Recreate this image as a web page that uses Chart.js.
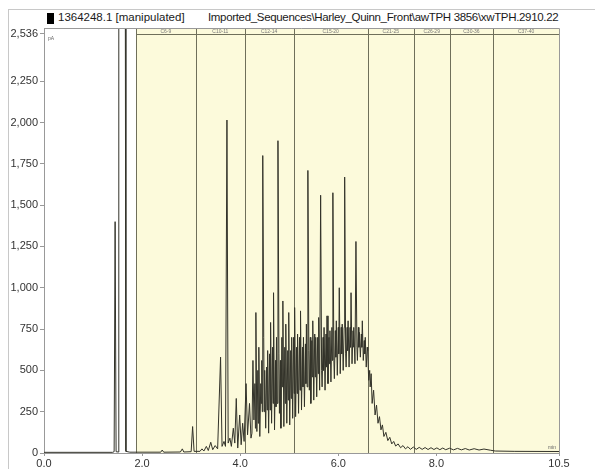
<!DOCTYPE html>
<html>
<head>
<meta charset="utf-8">
<script src="https://cdn.jsdelivr.net/npm/chart.js@4/dist/chart.umd.min.js"></script>
<style>
body { margin: 0; background: #fff; }
#wrap { position: relative; width: 595px; height: 469px; overflow: hidden; }
#frame { position: absolute; left: 8px; top: 9px; width: 600px; height: 470px; border-left: 1px solid #c8c8c8; border-top: 1px solid #c8c8c8; }
#sq { position: absolute; left: 47px; top: 13px; width: 7px; height: 11px; background: #000; }
.hdr { position: absolute; top: 11px; font: 11.5px "Liberation Sans", Arial, sans-serif; color: #1a1a1a; white-space: nowrap; }
canvas { position: absolute; left: 0; top: 0; }
</style>
</head>
<body>
<div id="wrap">
  <div id="frame"></div>
  <div id="sq"></div>
  <span class="hdr" style="left:58px">1364248.1 [manipulated]</span>
  <span class="hdr" style="left:208px;letter-spacing:-0.33px">Imported_Sequences\Harley_Quinn_Front\awTPH 3856\xwTPH.2910.22</span>
  <canvas id="chromChart" width="595" height="469"></canvas>
</div>
<script>
// retention time (min), signal (pA)
const solventTrace = [
    [0.00, 4], [1.40, 4], [1.43, 8], [1.45, 1400], [1.47, 8], [1.51, 6],
    [1.525, 3400], [1.655, 3400], [1.67, 10], [1.75, 5], [2.38, 5], [2.41, 18],
    [2.44, 5], [2.78, 6], [2.82, 25], [2.85, 6], [3.00, 8], [3.03, 160], [3.06, 10]
];
const earlyTrace = [
    [3.18, 10], [3.22, 25], [3.26, 12], [3.31, 40], [3.35, 15], [3.40, 65],
    [3.44, 20], [3.49, 45], [3.54, 25], [3.60, 580], [3.63, 40], [3.67, 70],
    [3.70, 40], [3.73, 2015], [3.755, 60], [3.79, 90], [3.82, 40], [3.86, 150],
    [3.89, 60], [3.92, 330], [3.95, 30], [3.99, 230], [4.02, 50], [4.05, 180],
    [4.08, 70], [4.12, 420], [4.15, 110], [4.19, 300], [4.22, 90]
];
const humpTrace = [
    [4.24, 120], [4.26, 560], [4.28, 200], [4.30, 420], [4.31, 150], [4.32, 850],
    [4.34, 130], [4.36, 500], [4.37, 180], [4.38, 640], [4.40, 100], [4.42, 420],
    [4.43, 300], [4.44, 560], [4.45, 250], [4.46, 1800], [4.48, 700], [4.49, 250],
    [4.50, 500], [4.52, 150], [4.54, 520], [4.55, 260], [4.56, 620], [4.58, 120],
    [4.60, 600], [4.61, 260], [4.62, 790], [4.64, 180], [4.66, 640], [4.67, 300],
    [4.68, 970], [4.70, 140], [4.72, 560], [4.73, 280], [4.74, 700], [4.755, 300],
    [4.77, 1890], [4.79, 600], [4.80, 240], [4.82, 560], [4.83, 150], [4.85, 700],
    [4.86, 400], [4.87, 920], [4.89, 160], [4.91, 640], [4.92, 300], [4.93, 780],
    [4.95, 180], [4.97, 620], [4.98, 320], [4.99, 850], [5.01, 170], [5.03, 620],
    [5.04, 330], [5.05, 700], [5.07, 210], [5.09, 700], [5.10, 360], [5.11, 880],
    [5.13, 220], [5.15, 640], [5.16, 360], [5.17, 720], [5.19, 240], [5.21, 700],
    [5.22, 380], [5.23, 860], [5.25, 260], [5.27, 640], [5.28, 400], [5.29, 700],
    [5.31, 280], [5.33, 660], [5.34, 420], [5.35, 780], [5.365, 400], [5.38, 1710],
    [5.40, 620], [5.41, 380], [5.43, 700], [5.44, 300], [5.46, 680], [5.47, 460],
    [5.48, 800], [5.50, 320], [5.52, 720], [5.53, 460], [5.54, 700], [5.56, 340],
    [5.58, 700], [5.59, 480], [5.60, 820], [5.62, 380], [5.64, 1560], [5.66, 500],
    [5.67, 400], [5.69, 700], [5.70, 500], [5.71, 760], [5.73, 380], [5.75, 720],
    [5.76, 520], [5.77, 830], [5.79, 420], [5.81, 700], [5.82, 540], [5.83, 740],
    [5.85, 430], [5.87, 760], [5.88, 560], [5.89, 1575], [5.91, 560], [5.92, 450],
    [5.94, 740], [5.95, 580], [5.96, 800], [5.98, 470], [6.00, 760], [6.01, 600],
    [6.02, 1000], [6.04, 480], [6.06, 760], [6.07, 600], [6.08, 780], [6.10, 500],
    [6.12, 760], [6.13, 1670], [6.15, 600], [6.16, 520], [6.18, 760], [6.19, 620],
    [6.20, 800], [6.22, 520], [6.24, 760], [6.25, 640], [6.26, 970], [6.28, 540],
    [6.30, 740], [6.31, 640], [6.32, 760], [6.34, 540], [6.36, 1280], [6.38, 640],
    [6.39, 560], [6.41, 760], [6.42, 640], [6.43, 730], [6.45, 580], [6.47, 720],
    [6.48, 640], [6.49, 800], [6.51, 560], [6.53, 680], [6.54, 600], [6.55, 700],
    [6.57, 520], [6.59, 640], [6.60, 620], [6.62, 440], [6.64, 500], [6.65, 400],
    [6.67, 480], [6.69, 300], [6.72, 380], [6.75, 230]
];
const tailTrace = [
    [6.78, 290], [6.81, 180], [6.84, 220], [6.87, 140], [6.90, 170], [6.93, 100],
    [6.97, 125], [7.01, 75], [7.05, 95], [7.09, 55], [7.13, 70], [7.17, 42],
    [7.22, 55], [7.27, 32], [7.32, 45], [7.37, 25], [7.42, 38], [7.47, 22],
    [7.53, 36], [7.59, 22], [7.65, 34], [7.71, 22], [7.77, 33], [7.83, 21],
    [7.89, 32], [7.95, 21], [8.01, 31], [8.07, 20], [8.13, 30], [8.19, 20],
    [8.27, 29], [8.35, 19], [8.43, 28], [8.51, 19], [8.59, 27], [8.67, 18],
    [8.77, 26], [8.87, 18], [8.97, 24], [9.10, 17], [9.20, 12], [9.60, 10], [10.5, 9]
];

const yTicks = [0, 250, 500, 750, 1000, 1250, 1500, 1750, 2000, 2250, 2536];
const xTicks = [0, 2, 4, 6, 8, 10.5];
const bandEdges = [1.87, 3.10, 4.09, 5.09, 6.60, 7.54, 8.27, 9.16, 10.5];
const bandLabels = ['C6-9', 'C10-11', 'C12-14', 'C15-20', 'C21-25', 'C26-29', 'C30-36', 'C37-40'];

const trace = solventTrace.concat(earlyTrace, humpTrace, tailTrace).map(p => ({ x: p[0], y: p[1] }));

const bandsPlugin = {
    id: 'bands',
    beforeDatasetsDraw(chart) {
        const c = chart.ctx, a = chart.chartArea, xs = chart.scales.x;
        const x0 = Math.round(xs.getPixelForValue(bandEdges[0]));
        c.save();
        c.fillStyle = '#fcfadb';
        c.fillRect(x0, a.top, a.right - x0, a.bottom - a.top);
        c.strokeStyle = '#6f6f5a';
        c.lineWidth = 1;
        c.beginPath();
        bandEdges.slice(0, -1).forEach(t => {
            const px = Math.round(xs.getPixelForValue(t)) + 0.5;
            c.moveTo(px, a.top);
            c.lineTo(px, a.bottom);
        });
        c.moveTo(x0, a.top + 6.5);
        c.lineTo(a.right, a.top + 6.5);
        c.stroke();
        c.fillStyle = '#777';
        c.font = '5px "Liberation Sans", Arial, sans-serif';
        c.textAlign = 'center';
        c.textBaseline = 'middle';
        bandLabels.forEach((lab, i) => {
            const mid = (xs.getPixelForValue(bandEdges[i]) + xs.getPixelForValue(bandEdges[i + 1])) / 2;
            c.fillText(lab, mid, a.top + 3.5);
        });
        c.restore();
    },
    afterDatasetsDraw(chart) {
        const c = chart.ctx, a = chart.chartArea;
        c.save();
        c.strokeStyle = '#999';
        c.lineWidth = 1;
        c.beginPath();
        c.moveTo(a.left, a.top + 0.5);
        c.lineTo(a.right + 0.5, a.top + 0.5);
        c.lineTo(a.right + 0.5, a.bottom);
        c.stroke();
        c.fillStyle = '#666';
        c.font = '5px "Liberation Sans", Arial, sans-serif';
        c.textBaseline = 'middle';
        c.fillText('pA', a.left + 4, a.top + 11);
        c.textAlign = 'right';
        c.fillText('min', a.right - 3, a.bottom - 5);
        c.restore();
    }
};

const tickFont = { family: '"Liberation Sans", Arial, sans-serif', size: 11 };

new Chart(document.getElementById('chromChart').getContext('2d'), {
    type: 'line',
    data: {
        datasets: [{
            label: 'FID signal',
            data: trace,
            borderColor: '#33332a',
            borderWidth: 1,
            pointRadius: 0,
            tension: 0,
            fill: false
        }]
    },
    options: {
        responsive: false,
        animation: false,
        layout: { padding: { top: 28, right: 36, left: 0, bottom: 0 } },
        plugins: { legend: { display: false }, tooltip: { enabled: false } },
        scales: {
            x: {
                type: 'linear',
                min: 0,
                max: 10.5,
                afterBuildTicks: s => { s.ticks = xTicks.map(v => ({ value: v })); },
                afterFit: s => { s.height = 16; },
                ticks: { color: '#333', font: tickFont, padding: 1, maxRotation: 0, callback: v => v.toFixed(1) },
                grid: { drawOnChartArea: false, tickLength: 3, color: '#999' },
                border: { color: '#999' }
            },
            y: {
                min: 0,
                max: 2572,
                afterBuildTicks: s => { s.ticks = yTicks.map(v => ({ value: v })); },
                afterFit: s => { s.width = 44; },
                ticks: { color: '#333', font: tickFont, padding: 2, callback: v => v.toLocaleString('en-US') },
                grid: { drawOnChartArea: false, tickLength: 4, color: '#999' },
                border: { color: '#999' }
            }
        }
    },
    plugins: [bandsPlugin]
});
</script>
</body>
</html>
